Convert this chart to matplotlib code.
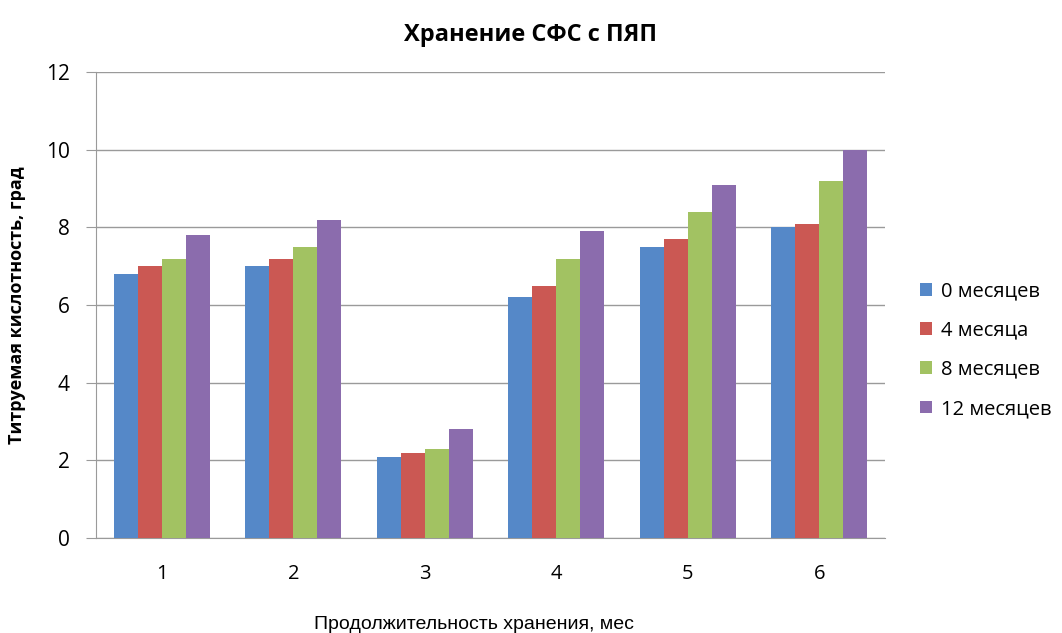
import numpy as np
import matplotlib.pyplot as plt

# titratable acidity by sample, grouped by storage time
samples = ['1', '2', '3', '4', '5', '6']
series = ['0 месяцев', '4 месяца', '8 месяцев', '12 месяцев']
m0 = [6.8, 7.0, 2.1, 6.2, 7.5, 8.0]
m4 = [7.0, 7.2, 2.2, 6.5, 7.7, 8.1]
m8 = [7.2, 7.5, 2.3, 7.2, 8.4, 9.2]
m12 = [7.8, 8.2, 2.8, 7.9, 9.1, 10.0]
colors = ['#5588C8', '#CB5853', '#A2C262', '#8B6CAD']

plt.rcParams['font.family'] = ['Open Sans', 'DejaVu Sans']

fig = plt.figure(figsize=(10.62, 6.33), dpi=100)
ax = fig.add_axes([0.0904, 0.150, 0.743, 0.736])

x = np.arange(len(samples))
w = 0.183
for i, (vals, name) in enumerate(zip([m0, m4, m8, m12], series)):
    ax.bar(x + (i - 1.5) * w, vals, w, color=colors[i], label=name, zorder=3)

ax.set_xlim(-0.5, 5.5)
ax.set_ylim(0, 12)
ax.set_yticks(range(0, 13, 2))
ax.set_xticks(x)
ax.set_xticklabels(samples)
ax.yaxis.grid(True, color='#9a9a9a', linewidth=1.0, zorder=0)
for s in ['top', 'right']:
    ax.spines[s].set_visible(False)
for s in ['left', 'bottom']:
    ax.spines[s].set_color('#9a9a9a')
ax.tick_params(axis='y', length=7, color='#9a9a9a', labelsize=15, pad=12)
ax.tick_params(axis='x', length=0, labelsize=14.5, pad=19)

fig.text(0.5, 0.945, 'Хранение СФС с ПЯП', ha='center', va='center',
         fontsize=17, fontweight='bold')
ax.set_ylabel('Титруемая кислотность, град', fontsize=13, fontweight='bold', labelpad=14)
fig.text(0.446, 0.0, 'Продолжительность хранения, мес', ha='center', va='bottom',
         fontsize=14, family=['Liberation Sans', 'DejaVu Sans'])

ax.legend(loc='center left', bbox_to_anchor=(1.021, 0.403), frameon=False,
          fontsize=14.5, handlelength=0.6, handleheight=0.6,
          handletextpad=0.45, labelspacing=0.95)

fig.savefig('out.png', dpi=100)
